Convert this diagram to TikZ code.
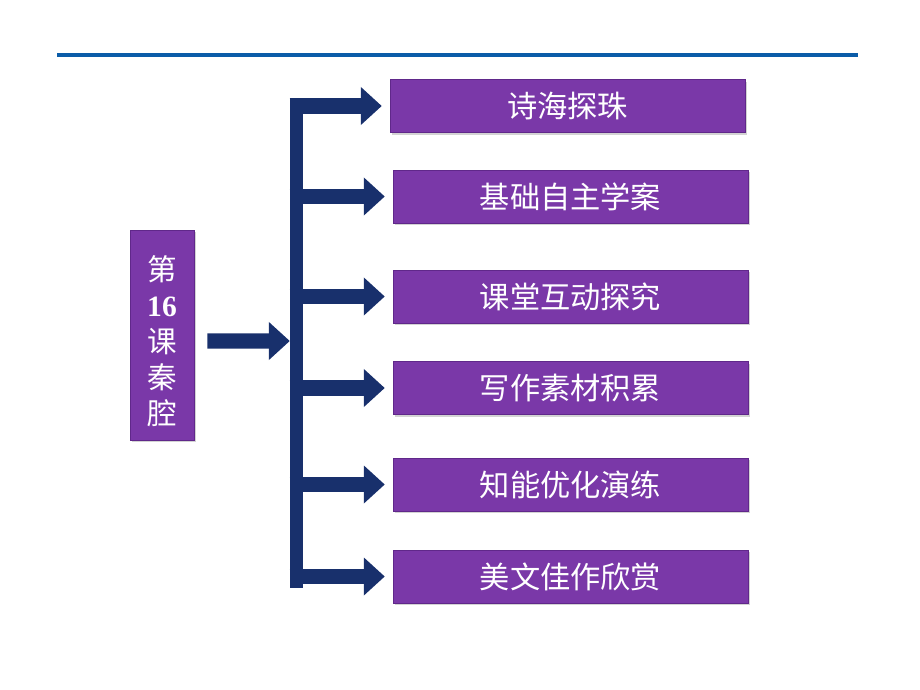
\documentclass[tikz,border=0pt]{standalone}
\usepackage{fontspec}
\newfontfamily\cjk{Noto Sans CJK SC}
\newfontfamily\numfont{Liberation Serif}
\usetikzlibrary{arrows.meta, positioning, shadows}

\definecolor{boxpurple}{RGB}{122,56,168}
\definecolor{boxedge}{RGB}{96,40,138}
\definecolor{navy}{RGB}{24,48,108}
\definecolor{rulecol}{RGB}{11,92,168}

\begin{document}
\begin{tikzpicture}[x=0.025cm, y=-0.025cm,
    topic/.style={draw=boxedge, fill=boxpurple, text=white,
        minimum width=8.875cm, minimum height=1.325cm,
        font=\cjk\fontsize{21.5}{26}\selectfont,
        drop shadow={opacity=0.35, shadow xshift=1.5pt, shadow yshift=-1.5pt}},
    fat/.style={navy, line width=0.38cm,
        -{Triangle[length=0.52cm, width=0.95cm, line width=0pt]}}]
    \useasboundingbox (0,0) rectangle (920,690);

    % rule at the top
    \coordinate (ruleL) at (57,55);
    \coordinate (ruleR) at (858,55);
    \draw [rulecol, line width=0.1cm] (ruleL) -- (ruleR);

    % lesson box
    \node (lesson) [draw=boxedge, fill=boxpurple,
        minimum width=1.6cm, minimum height=5.25cm,
        drop shadow={opacity=0.35, shadow xshift=1.5pt, shadow yshift=-1.5pt}]
        at (162,335) {};
    \node (lessontext) [text=white, align=center,
        font=\cjk\fontsize{21}{25.6}\selectfont]
        at (162,341) {第\\{\numfont\bfseries 16}\\课\\秦\\腔};

    % topics
    \node (b1) [topic] at (567.5,106) {诗海探珠};
    \node (b2) [topic] at (570.5,196.5) {基础自主学案};
    \node (b3) [topic] at (570.5,296.5) {课堂互动探究};
    \node (b4) [topic] at (570.5,388) {写作素材积累};
    \node (b5) [topic] at (570.5,484.5) {知能优化演练};
    \node (b6) [topic] at (570.5,576.5) {美文佳作欣赏};

    % the bar
    \node (bar) [fill=navy, inner sep=0pt, minimum width=0.325cm,
        minimum height=12.25cm] at (296.5,343) {};

    \draw [fat, shorten <=0.325cm] ([yshift=-0.15cm]lesson.east)
        -- (bar.west |- lessontext.east);
    \foreach \b in {b1,b2,b3,b4,b5,b6}
        \draw [fat, shorten >=0.2cm] (bar.west |- \b.west) -- (\b.west);
\end{tikzpicture}
\end{document}
